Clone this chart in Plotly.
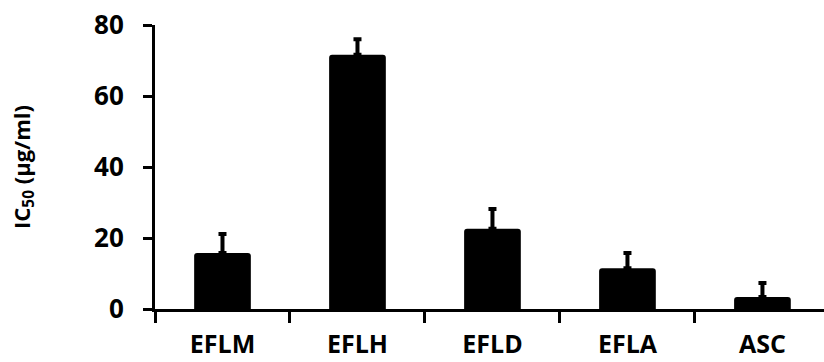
import plotly.graph_objects as go

categories = ["EFLM", "EFLH", "EFLD", "EFLA", "ASC"]
ic50_values = [15.8, 71.6, 22.6, 11.5, 3.4]
ic50_errors = [5.3, 4.4, 5.6, 4.3, 3.9]
y_tick_values = [0, 20, 40, 60, 80]

FONT = "Open Sans"

fig = go.Figure(
    go.Bar(
        x=categories,
        y=ic50_values,
        width=0.42,
        marker=dict(color="black", line=dict(width=0), cornerradius=3),
        error_y=dict(type="data", array=ic50_errors, symmetric=False,
                     arrayminus=[0] * len(ic50_errors),
                     color="black", thickness=4, width=4),
    )
)

fig.update_layout(
    width=824, height=362,
    margin=dict(l=155, r=0, t=25, b=53),
    plot_bgcolor="white", paper_bgcolor="white",
    showlegend=False,
    font=dict(family=FONT, color="black"),
)
fig.update_xaxes(
    range=[-0.5, 4.456],
    automargin=False,
    showline=True, linecolor="black", linewidth=3,
    ticks="outside", tickson="boundaries", ticklen=11, tickwidth=3, tickcolor="black",
    tickfont=dict(family=FONT, size=25, color="black", weight="bold"),
    ticklabelstandoff=11,
    showgrid=False, zeroline=False,
)
fig.update_yaxes(
    range=[0, 80],
    automargin=False,
    tickvals=y_tick_values,
    showline=True, linecolor="black", linewidth=3,
    ticks="outside", ticklen=9, tickwidth=3, tickcolor="black",
    tickfont=dict(family=FONT, size=26, color="black", weight="bold"),
    ticklabelstandoff=14,
    title=dict(text="IC<sub>50</sub> (µg/ml)",
               font=dict(family=FONT, size=22, color="black", weight="bold"),
               standoff=58),
    showgrid=False, zeroline=False,
)

# remove the default 8px page margin so the figure fills the window
fig.write_html("out.html", config={"displayModeBar": False},
               post_script="document.body.style.margin='0';")
